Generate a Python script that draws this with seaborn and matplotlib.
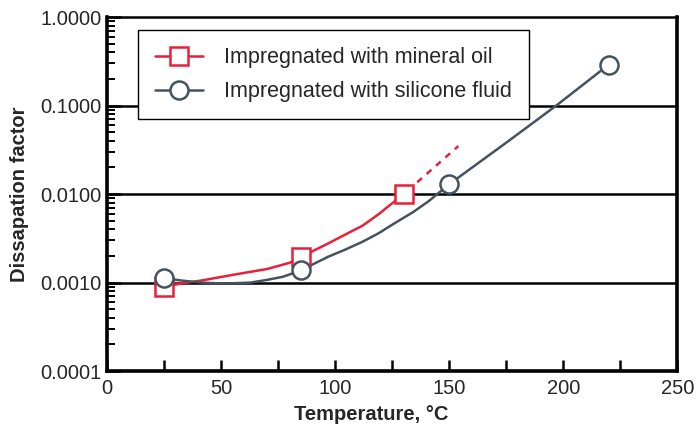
import matplotlib
matplotlib.use("Agg")
import matplotlib.pyplot as plt
import matplotlib.ticker as mticker
from matplotlib.lines import Line2D
import seaborn as sns

# measured points (markers)
oil_temp = [25, 85, 130]
oil_df = [0.00090, 0.00195, 0.0099]
sil_temp = [25, 85, 150, 220]
sil_df = [0.00112, 0.00137, 0.0129, 0.29]

# smooth curves
oil_curve_temp = [25, 33, 41, 55, 70, 80, 85, 89, 97, 104, 112, 119, 123, 130]
oil_curve_df = [0.00090, 0.00098, 0.00105, 0.00122, 0.00142, 0.00167, 0.00195,
                0.00219, 0.00277, 0.00344, 0.00439, 0.00590, 0.00716, 0.0099]
oil_dash_temp = [136, 154]
oil_dash_df = [0.0136, 0.0348]
sil_curve_temp = [25, 33, 41, 48, 55, 63, 70, 77, 85, 89, 97, 104, 112, 119,
                  126, 134, 141, 150, 175, 197, 220]
sil_curve_df = [0.00112, 0.00105, 0.00100, 0.00098, 0.00098, 0.00100, 0.00107,
                0.00116, 0.00137, 0.00155, 0.00196, 0.00233, 0.00289, 0.00360,
                0.00467, 0.00621, 0.0083, 0.0129, 0.038, 0.100, 0.29]

labels = ["Impregnated with mineral oil", "Impregnated with silicone fluid"]
red = "#E8203A"
slate = "#44535F"

sns.set_style("ticks")
plt.rcParams["font.family"] = ["Liberation Sans", "DejaVu Sans"]

fig, ax = plt.subplots(figsize=(6.96, 4.36), dpi=100)
fig.subplots_adjust(left=0.154, right=0.973, top=0.961, bottom=0.149)

ax.set_yscale("log")
for yv in [0.001, 0.01, 0.1]:
    ax.axhline(yv, color="black", lw=1.8, zorder=1)

sns.lineplot(x=oil_curve_temp, y=oil_curve_df, color=red, lw=1.8, sort=False, ax=ax, zorder=2)
sns.lineplot(x=oil_dash_temp, y=oil_dash_df, color=red, lw=1.8, ax=ax, zorder=2)
ax.lines[-1].set_linestyle((0, (2.5, 2.5)))
sns.lineplot(x=sil_curve_temp, y=sil_curve_df, color=slate, lw=1.8, sort=False, ax=ax, zorder=2)

ax.plot(oil_temp, oil_df, ls="none", marker="s", ms=13, mfc="white", mec=red, mew=1.8, zorder=3)
ax.plot(sil_temp, sil_df, ls="none", marker="o", ms=13, mfc="white", mec=slate, mew=1.8, zorder=4)

ax.set_xlim(0, 250)
ax.set_ylim(1e-4, 1)
ax.set_xticks(range(0, 251, 50))
ax.xaxis.set_minor_locator(mticker.MultipleLocator(25))
ax.yaxis.set_major_locator(mticker.LogLocator(base=10, numticks=10))
ax.yaxis.set_minor_locator(mticker.LogLocator(base=10, subs=range(2, 10), numticks=20))
ax.yaxis.set_major_formatter(mticker.FormatStrFormatter("%.4f"))
ax.yaxis.set_minor_formatter(mticker.NullFormatter())

ax.tick_params(axis="both", which="both", direction="in", labelsize=14.5, color="black")
ax.tick_params(axis="x", which="both", length=8, width=1.8, pad=6)
ax.tick_params(axis="y", which="major", length=10, width=1.8, pad=4)
ax.tick_params(axis="y", which="minor", length=6, width=1.4)

for side in ["left", "bottom", "right"]:
    ax.spines[side].set_linewidth(2.6)
    ax.spines[side].set_color("black")
ax.spines["top"].set_linewidth(1.8)
ax.spines["top"].set_color("black")
ax.spines["top"].set_visible(True)
ax.spines["right"].set_visible(True)

ax.set_xlabel("Temperature, °C", fontsize=14.5, fontweight="bold")
ax.set_ylabel("Dissapation factor", fontsize=14.5, fontweight="bold", labelpad=8)
ax.xaxis.set_label_coords(0.463, -0.097)

handles = [
    Line2D([], [], color=red, lw=1.8, marker="s", ms=13, mfc="white", mec=red, mew=1.8),
    Line2D([], [], color=slate, lw=1.8, marker="o", ms=13, mfc="white", mec=slate, mew=1.8),
]
leg = ax.legend(handles, labels, loc="upper left", bbox_to_anchor=(0.054, 0.963),
                borderaxespad=0, fontsize=15.5, frameon=True, fancybox=False,
                edgecolor="black", framealpha=1, handlelength=2.2, labelspacing=0.6,
                borderpad=0.8, handletextpad=0.98)
leg.get_frame().set_linewidth(1.0)
leg.set_zorder(5)

plt.savefig("out.png", dpi=100)
